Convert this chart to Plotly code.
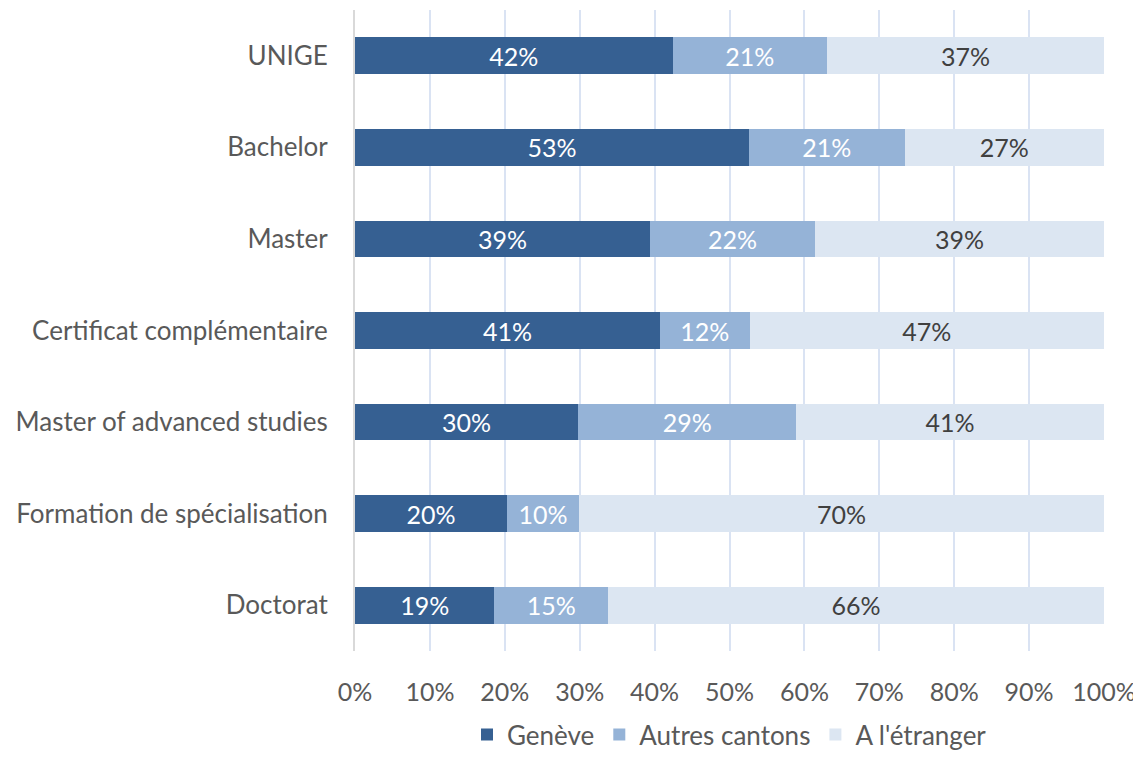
import plotly.graph_objects as go

# Data (share of students by origin, %)
categories = ['UNIGE', 'Bachelor', 'Master', 'Certificat complémentaire',
              'Master of advanced studies', 'Formation de spécialisation', 'Doctorat']
geneve = [42.4, 52.6, 39.4, 40.7, 29.8, 20.3, 18.6]
autres_cantons = [20.6, 20.8, 22.0, 12.0, 29.1, 9.6, 15.2]
etranger = [37.0, 26.6, 38.6, 47.3, 41.1, 70.1, 66.2]
tick_values = list(range(0, 101, 10))
tick_labels = [f'{v}%' for v in tick_values]

series = [
    ('Genève', geneve, '#366092', 'white'),
    ('Autres cantons', autres_cantons, '#95b3d7', 'white'),
    ("A l'étranger", etranger, '#dce6f2', '#404040'),
]

fig = go.Figure()
for name, vals, color, txtcolor in series:
    fig.add_trace(go.Bar(
        y=categories,
        x=vals,
        name=name,
        orientation='h',
        marker=dict(color=color, line=dict(width=0)),
        texttemplate='%{x:.0f}%',
        textposition='inside',
        insidetextanchor='middle',
        textfont=dict(color=txtcolor, size=25),
        hoverinfo='skip',
    ))

fig.update_layout(
    barmode='stack',
    bargap=0.6,
    width=1141,
    height=757,
    margin=dict(l=347, r=45, t=2, b=114, autoexpand=False),
    plot_bgcolor='white',
    paper_bgcolor='white',
    font=dict(family='Lato, Open Sans, sans-serif', size=25, color='#595959'),
    uniformtext=dict(minsize=25, mode='show'),
    legend=dict(
        orientation='h',
        x=0.5, xanchor='center',
        yref='container',
        y=0.04, yanchor='middle',
        font=dict(size=26, color='#595959'),
        traceorder='normal',
        itemwidth=30,
    ),
)

fig.update_xaxes(
    range=[0, 100],
    tickvals=tick_values,
    ticktext=tick_labels,
    showgrid=True,
    gridcolor='#dae3f3',
    gridwidth=2,
    zeroline=False,
    showline=False,
    ticks='',
    ticklabelstandoff=24,
    automargin=False,
    fixedrange=True,
)
fig.update_yaxes(
    categoryorder='array',
    categoryarray=categories[::-1],
    showline=True,
    linecolor='#d9d9d9',
    linewidth=2,
    ticks='',
    ticklabelstandoff=20,
    tickfont=dict(size=26),
    showgrid=False,
    automargin=False,
)

fig.write_html('out.html')
